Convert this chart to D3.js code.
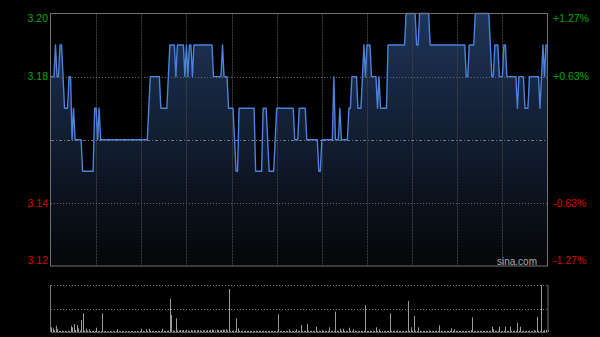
<!DOCTYPE html>
<html><head><meta charset="utf-8">
<script src="https://cdn.jsdelivr.net/npm/d3@7"></script>
<style>html,body{margin:0;padding:0;background:#000;}svg{display:block}</style>
</head><body><svg id="c" width="600" height="337"></svg>
<script>
const prevClose = 3.16;
const prices = [
3.18,3.18,3.18,3.19,3.18,3.18,3.19,3.19,3.18,3.17,
3.17,3.17,3.18,3.18,3.16,3.17,3.16,3.16,3.16,3.16,
3.16,3.15,3.15,3.15,3.15,3.15,3.15,3.15,3.15,3.17,
3.17,3.16,3.17,3.16,3.16,3.16,3.16,3.16,3.16,3.16,
3.16,3.16,3.16,3.16,3.16,3.16,3.16,3.16,3.16,3.16,
3.16,3.16,3.16,3.16,3.16,3.16,3.16,3.16,3.16,3.16,
3.16,3.16,3.16,3.16,3.16,3.17,3.18,3.18,3.18,3.18,
3.18,3.18,3.18,3.17,3.17,3.17,3.17,3.17,3.18,3.19,
3.19,3.19,3.19,3.18,3.19,3.19,3.19,3.19,3.19,3.18,
3.19,3.18,3.19,3.19,3.18,3.19,3.19,3.19,3.19,3.19,
3.19,3.19,3.19,3.19,3.19,3.19,3.19,3.19,3.18,3.18,
3.18,3.18,3.18,3.18,3.19,3.18,3.18,3.18,3.17,3.17,
3.17,3.17,3.16,3.15,3.15,3.17,3.17,3.17,3.17,3.17,
3.17,3.17,3.17,3.17,3.17,3.17,3.15,3.15,3.15,3.15,
3.15,3.17,3.17,3.17,3.16,3.15,3.15,3.15,3.15,3.16,
3.17,3.17,3.17,3.17,3.17,3.17,3.17,3.17,3.17,3.17,
3.17,3.17,3.16,3.16,3.16,3.17,3.17,3.17,3.17,3.17,
3.16,3.16,3.16,3.16,3.16,3.16,3.16,3.16,3.15,3.15,
3.16,3.16,3.16,3.16,3.16,3.16,3.16,3.16,3.18,3.16,
3.16,3.16,3.17,3.16,3.16,3.16,3.16,3.16,3.17,3.17,
3.18,3.18,3.18,3.18,3.17,3.17,3.17,3.18,3.19,3.18,
3.19,3.19,3.19,3.18,3.18,3.18,3.18,3.17,3.18,3.17,
3.17,3.17,3.17,3.17,3.19,3.19,3.19,3.19,3.19,3.19,
3.19,3.19,3.19,3.19,3.19,3.19,3.20,3.20,3.20,3.20,
3.20,3.20,3.20,3.19,3.19,3.20,3.20,3.20,3.20,3.20,
3.20,3.20,3.19,3.19,3.19,3.19,3.19,3.19,3.19,3.19,
3.19,3.19,3.19,3.19,3.19,3.19,3.19,3.19,3.19,3.19,
3.19,3.19,3.19,3.19,3.19,3.19,3.18,3.18,3.19,3.19,
3.19,3.19,3.20,3.20,3.20,3.20,3.20,3.20,3.20,3.20,
3.20,3.20,3.19,3.18,3.18,3.19,3.19,3.19,3.18,3.18,
3.18,3.19,3.19,3.18,3.18,3.18,3.18,3.18,3.18,3.18,
3.17,3.18,3.18,3.18,3.18,3.17,3.17,3.17,3.18,3.18,
3.18,3.18,3.18,3.18,3.18,3.17,3.18,3.19,3.18,3.19,
3.19];
const volumes = [
47,35,15,63,27,12,10,12,10,12,
10,12,10,63,47,80,20,70,37,15,
120,187,15,33,12,27,10,10,12,10,
43,10,8,10,187,8,10,8,8,10,
8,8,10,8,27,8,8,10,8,8,
8,10,8,8,10,8,8,10,8,10,
33,10,8,27,10,33,12,10,12,10,
10,12,10,10,33,12,10,12,15,333,
170,15,12,137,15,12,20,15,20,12,
20,15,12,20,15,20,12,15,20,15,
12,20,15,12,20,15,20,25,20,15,
25,20,15,20,25,20,27,15,430,12,
12,15,12,137,37,12,10,12,10,12,
10,12,10,12,10,10,12,10,10,12,
10,12,10,10,12,10,10,12,10,10,
12,177,10,12,10,10,12,10,27,10,
12,10,10,27,10,12,70,12,10,12,
80,12,10,12,10,12,53,10,12,10,
20,10,12,10,12,47,10,12,10,203,
12,10,33,12,33,10,12,10,43,12,
10,27,12,10,12,10,12,10,12,270,
12,10,12,10,12,10,47,12,27,10,
12,10,12,10,12,187,12,10,12,10,
17,10,12,10,12,10,12,310,12,47,
12,160,12,10,47,12,10,12,10,12,
10,17,12,10,12,10,12,10,67,12,
10,12,10,12,10,12,37,12,27,10,
12,10,12,10,12,10,12,10,12,20,
147,12,10,12,10,12,10,12,10,12,
10,12,10,53,27,12,10,12,53,12,
10,12,53,12,10,53,12,10,12,10,
93,12,53,10,12,10,12,10,12,10,
12,20,12,153,12,10,470,12,20,20,
15];
const priceTicks = [3.20, 3.18, 3.14, 3.12];
const pctTicks = ["+1.27%", "+0.63%", "-0.63%", "-1.27%"];
const timeGrid = [30, 60, 90, 120, 150, 180, 210, 240, 270, 300];

const svg = d3.select("#c");
const L = 51, R = 547.5, T = 13.5, B = 266;
const VT = 285, VB = 332;
const x = d3.scaleLinear().domain([0, 330]).range([L, R]);
const y = d3.scaleLinear().domain([3.12, 3.20]).range([B, T]);
const yv = d3.scaleLinear().domain([0, 470]).range([VB, VT]);

svg.append("rect").attr("width", 600).attr("height", 337).attr("fill", "#000");

const defs = svg.append("defs");
const grad = defs.append("linearGradient").attr("id", "g").attr("x1", 0).attr("y1", 0).attr("x2", 0).attr("y2", 1)
  .attr("gradientUnits", "userSpaceOnUse").attr("x1", 0).attr("y1", T).attr("x2", 0).attr("y2", B);
grad.append("stop").attr("offset", "0").attr("stop-color", "#1e3458");
grad.append("stop").attr("offset", "1").attr("stop-color", "#050608");

const area = d3.area().x((d, i) => x(i)).y0(B).y1(d => y(d));
svg.append("path").datum(prices).attr("d", area).attr("fill", "url(#g)");

// grid
const g = svg.append("g");
timeGrid.forEach(m => {
  g.append("line").attr("x1", Math.round(x(m)) + 0.5).attr("x2", Math.round(x(m)) + 0.5)
    .attr("y1", T).attr("y2", B).attr("stroke", "#404040").attr("stroke-dasharray", "2,1");
});
[3.18, 3.14].forEach(v => {
  g.append("line").attr("x1", L).attr("x2", R).attr("y1", Math.round(y(v)) + 0.5).attr("y2", Math.round(y(v)) + 0.5)
    .attr("stroke", "#666").attr("stroke-dasharray", "1,2");
});
g.append("line").attr("x1", L).attr("x2", R).attr("y1", Math.round(y(prevClose)) + 0.5).attr("y2", Math.round(y(prevClose)) + 0.5)
  .attr("stroke", "#777").attr("stroke-dasharray", "3,2,1,2");

const line = d3.line().x((d, i) => x(i)).y(d => y(d));
svg.append("path").datum(prices).attr("d", line).attr("fill", "none")
  .attr("stroke", "#4a82dc").attr("stroke-width", 1.4).attr("stroke-linejoin", "round");

// border
svg.append("rect").attr("x", L - 0.5).attr("y", T).attr("width", R - L + 0.5).attr("height", B - T)
  .attr("fill", "none").attr("stroke", "#707070").attr("stroke-width", 1);

// labels
const fmt = d3.format(".2f");
priceTicks.forEach((v, i) => {
  const off = i === 0 ? 5 : (i === priceTicks.length - 1 ? -6 : 0);
  svg.append("text").attr("x", 48).attr("y", y(v) + off).attr("dy", "0.35em")
    .attr("text-anchor", "end").attr("font-family", "Liberation Sans, Arial, sans-serif").attr("font-size", 10.5)
    .attr("fill", v > prevClose ? "#00a800" : "#d80000").text(fmt(v));
  svg.append("text").attr("x", 553).attr("y", y(v) + off).attr("dy", "0.35em")
    .attr("text-anchor", "start").attr("font-family", "Liberation Sans, Arial, sans-serif").attr("font-size", 10.5)
    .attr("fill", v > prevClose ? "#00a800" : "#d80000").text(pctTicks[i]);
});
svg.append("text").attr("x", 537).attr("y", 265).attr("text-anchor", "end")
  .attr("font-family", "Liberation Sans, Arial, sans-serif").attr("font-size", 10).attr("fill", "#aaa").text("sina.com");

// volume panel
const vg = svg.append("g");
[VT, (VT + VB) / 2].forEach(yy => {
  vg.append("line").attr("x1", L).attr("x2", R).attr("y1", Math.round(yy) + 0.5).attr("y2", Math.round(yy) + 0.5)
    .attr("stroke", "#777").attr("stroke-dasharray", "1,2");
});
vg.selectAll("line.v").data(volumes).enter().append("line")
  .attr("x1", (d, i) => Math.round(x(i)) + 0.5).attr("x2", (d, i) => Math.round(x(i)) + 0.5)
  .attr("y1", VB).attr("y2", d => yv(d)).attr("stroke", "#9a9a9a").attr("stroke-width", 1);
vg.append("line").attr("x1", L - 0.5).attr("x2", L - 0.5).attr("y1", VT).attr("y2", VB).attr("stroke", "#777");
vg.append("line").attr("x1", R + 0.5).attr("x2", R + 0.5).attr("y1", VT).attr("y2", VB).attr("stroke", "#777");
vg.append("line").attr("x1", L).attr("x2", R).attr("y1", VB + 0.5).attr("y2", VB + 0.5).attr("stroke", "#555");
</script></body></html>
